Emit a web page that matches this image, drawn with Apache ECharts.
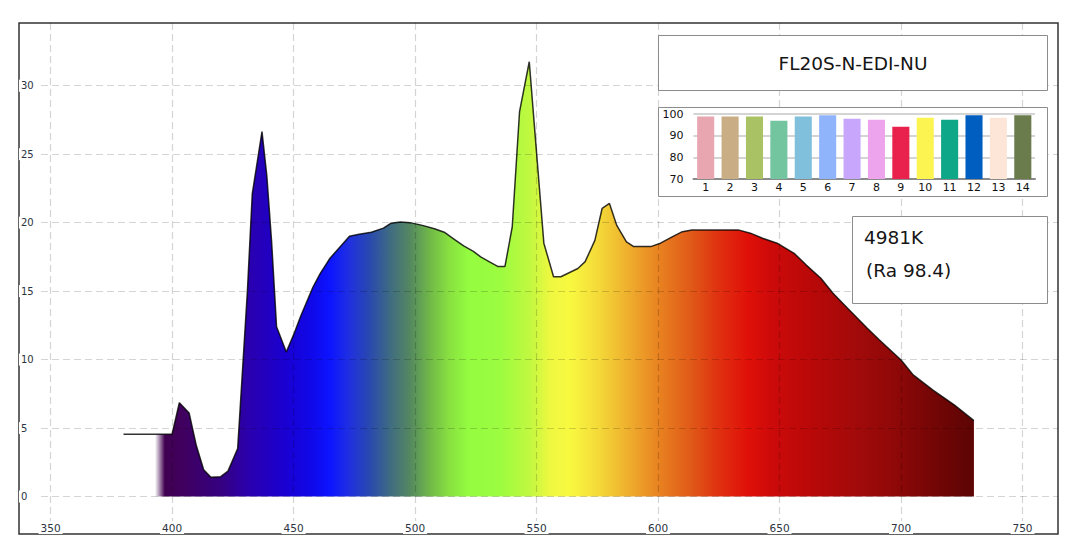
<!DOCTYPE html>
<html>
<head>
<meta charset="utf-8">
<script src="https://cdn.jsdelivr.net/npm/echarts@6/dist/echarts.min.js"></script>
<style>
html,body{margin:0;padding:0;background:#fff;}
#c{width:1077px;height:556px;}
</style>
</head>
<body>
<div id="c"></div>
<script>
// ---- spectrum data (nm, relative intensity) ----
const wavelengths = [380,400,403,407,410,413,416,420,423,427,431,433,437,439,441,443,447,450,453,458,461,465,473,477,482,487,490,494,498,503,508,512,516,520,524,527,531,534,537,540,543,547,549,553,557,560,567,570,574,577,580,583,587,590,597,601,606,610,614,633,638,643,649,656,661,667,672,678,686,691,700,705,713,722,730];
const intensity   = [4.55,4.55,6.85,6.1,3.7,1.95,1.4,1.45,1.85,3.5,15.0,22.1,26.65,23.4,18.5,12.4,10.55,11.8,13.2,15.3,16.3,17.4,19.0,19.15,19.3,19.6,19.95,20.05,20.0,19.8,19.55,19.3,18.8,18.3,17.9,17.5,17.1,16.8,16.8,19.7,28.1,31.75,27.3,18.5,16.05,16.05,16.65,17.15,18.7,21.05,21.4,19.8,18.6,18.25,18.25,18.5,18.98,19.34,19.47,19.47,19.23,18.86,18.5,17.76,16.9,15.94,14.84,13.75,12.3,11.45,9.97,8.88,7.78,6.68,5.54];

// ---- axis ticks ----
const xTicks = [350,400,450,500,550,600,650,700,750];
const yTicks = [0,5,10,15,20,25,30];

// ---- colour-rendering inset ----
const criCategories = ['1','2','3','4','5','6','7','8','9','10','11','12','13','14'];
const criValues = [98.8,98.8,98.8,96.9,98.8,99.4,97.8,97.4,94.1,98.3,97.4,99.4,98.3,99.4];
const criColors = ['#e8a6b0','#c9ad84','#a9c263','#72c59f','#80c0dc','#90b4fc','#c8a6fc','#eea4ec','#e8224c','#fcf450','#0ea888','#005ec0','#fde5d8','#6a7b4c'];

// ---- labels ----
const modelName = 'FL20S-N-EDI-NU';
const cctText = '4981K';
const raText = '(Ra 98.4)';

// ---- spectrum fill colours (style) ----
const spectrumNm = [380,393,397,405,412,420,432,446,457,465,473,481,490,498,506,514,522,535,547,556,564,576,593,601,614,625,637,647,664,683,697,711,730];
const spectrumColors = ['rgba(64,0,80,0)','rgba(64,0,80,0)','#400050','#400060','#3a0070','#350080','#2a00b0','#1a00d0','#1008e8','#0c14ff','#2030e0','#2848b0','#406c80','#548860','#70b848','#88e040','#94fc40','#9cfc40','#c0f840','#f0f840','#f8f840','#f4d838','#ec9c28','#e88020','#e05818','#e03010','#e01008','#cc0a0a','#b80808','#a00a0a','#900808','#780606','#5c0404'];

const chart = echarts.init(document.getElementById('c'), null, {renderer: 'svg'});
const lineData = wavelengths.map((w, i) => [w, intensity[i]]);
const wMin = wavelengths[0], wMax = wavelengths[wavelengths.length - 1];
const stops = spectrumNm.map((nm, i) => ({offset: (nm - wMin) / (wMax - wMin), color: spectrumColors[i]}));

const gridLine = {show: true, lineStyle: {color: 'rgba(0,0,0,0.17)', type: [7, 4], width: 1.2}};
const axisFont = 'DejaVu Sans';
const boxFont = 'DejaVu Sans';

chart.setOption({
  animation: false,
  backgroundColor: '#fff',
  grid: [
    {left: 19, right: 19, top: 23, bottom: 22, show: true, borderColor: '#333', borderWidth: 1.5, backgroundColor: '#fff'},
    {left: 693.5, top: 114, width: 341.5, height: 65}
  ],
  xAxis: [
    {
      type: 'value', gridIndex: 0, min: 337, max: 764.6, z: 3,
      axisLine: {show: false, onZero: false},
      axisTick: {show: false, customValues: xTicks},
      axisLabel: {inside: true, margin: 0, customValues: xTicks, color: '#2b3440', fontSize: 10.5, fontFamily: axisFont,
                  backgroundColor: '#fff', padding: [1, 2, 1, 2]},
      splitLine: gridLine
    },
    {
      type: 'category', gridIndex: 1, data: criCategories, z: 12,
      axisLine: {show: true, lineStyle: {color: '#8a8a8a', width: 2}},
      axisTick: {show: false},
      axisLabel: {margin: 3, color: '#111', fontSize: 11, fontFamily: boxFont},
      splitLine: {show: false}
    }
  ],
  yAxis: [
    {
      type: 'value', gridIndex: 0, min: -2.74, max: 34.58, z: 3,
      axisLine: {show: false, onZero: false},
      axisTick: {show: false, customValues: yTicks},
      axisLabel: {inside: true, margin: 0, customValues: yTicks, color: '#2b3440', fontSize: 10, fontFamily: axisFont,
                  backgroundColor: '#fff', padding: [1, 2, 1, 2], width: 15, align: 'left'},
      splitLine: gridLine
    },
    {
      type: 'value', gridIndex: 1, min: 70, max: 100, interval: 10, z: 12,
      axisLine: {show: false}, axisTick: {show: false},
      axisLabel: {margin: 10, color: '#111', fontSize: 11, fontFamily: boxFont},
      splitLine: {show: true, lineStyle: {color: '#d4d4d4', width: 2}}
    }
  ],
  graphic: [
    {type: 'rect', z: 10, shape: {x: 658.5, y: 35.5, width: 389, height: 55}, style: {fill: '#fff', stroke: '#8c8c8c', lineWidth: 1}},
    {type: 'text', z: 11, x: 853, y: 63, style: {text: modelName, fill: '#151515', fontSize: 18.5, fontFamily: boxFont, align: 'center', verticalAlign: 'middle'}},
    {type: 'rect', z: 10, shape: {x: 658.5, y: 107.5, width: 389, height: 89}, style: {fill: '#fff', stroke: '#8c8c8c', lineWidth: 1}},
    {type: 'rect', z: 10, shape: {x: 852.5, y: 216.5, width: 195, height: 87}, style: {fill: '#fff', stroke: '#8c8c8c', lineWidth: 1}},
    {type: 'text', z: 11, x: 864, y: 237, style: {text: cctText, fill: '#151515', fontSize: 18.5, fontFamily: boxFont, align: 'left', verticalAlign: 'middle'}},
    {type: 'text', z: 11, x: 866, y: 270, style: {text: raText, fill: '#151515', fontSize: 18.5, fontFamily: boxFont, align: 'left', verticalAlign: 'middle'}}
  ],
  series: [
    {
      type: 'line', xAxisIndex: 0, yAxisIndex: 0, data: lineData, z: 2,
      showSymbol: false, symbol: 'none', smooth: false,
      lineStyle: {color: 'rgba(0,0,0,0.8)', width: 1.5},
      areaStyle: {origin: 0, opacity: 1, color: {type: 'linear', x: 0, y: 0, x2: 1, y2: 0, colorStops: stops}}
    },
    {
      type: 'bar', xAxisIndex: 1, yAxisIndex: 1, z: 12, barWidth: '70%',
      data: criValues.map((v, i) => ({value: v, itemStyle: {color: criColors[i]}}))
    }
  ]
});
</script>
</body>
</html>
